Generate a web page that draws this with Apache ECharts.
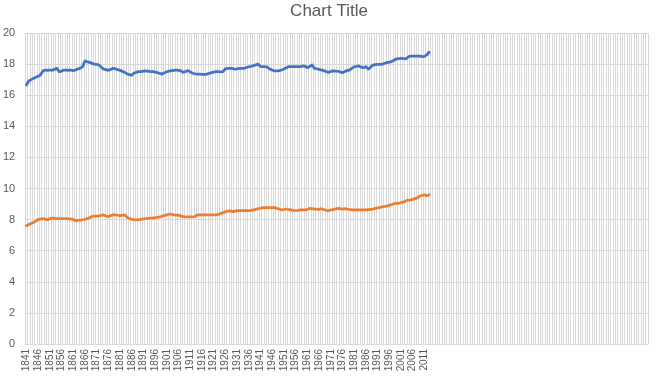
<!DOCTYPE html>
<html>
<head>
<meta charset="utf-8">
<script src="https://cdn.jsdelivr.net/npm/echarts@6/dist/echarts.min.js"></script>
<style>
html,body{margin:0;padding:0;background:#fff;}
#chart{width:658px;height:387px;}
</style>
</head>
<body>
<div id="chart"></div>
<script>
// First and last labelled years; the category axis carries extra blank slots after the data
const firstYear = 1841;
const lastYear = 2013;
const blankSlots = 93;

const yTicks = [0, 2, 4, 6, 8, 10, 12, 14, 16, 18, 20];

// Series 1 (blue), one value per year 1841..2013
const series1 = [
  16.66,16.91,17.00,17.08,17.15,17.22,17.30,17.55,17.62,17.60,
  17.62,17.60,17.66,17.73,17.51,17.55,17.62,17.62,17.60,17.62,
  17.58,17.62,17.68,17.74,17.83,18.20,18.15,18.11,18.05,18.00,
  17.98,17.94,17.80,17.68,17.64,17.60,17.65,17.73,17.70,17.64,
  17.60,17.52,17.47,17.38,17.32,17.28,17.43,17.48,17.51,17.52,
  17.55,17.56,17.55,17.52,17.51,17.48,17.45,17.40,17.36,17.45,
  17.51,17.55,17.58,17.60,17.62,17.60,17.56,17.47,17.52,17.58,
  17.50,17.41,17.38,17.36,17.35,17.34,17.34,17.36,17.40,17.45,
  17.48,17.51,17.51,17.50,17.51,17.70,17.73,17.73,17.72,17.68,
  17.70,17.73,17.72,17.73,17.78,17.83,17.86,17.90,17.95,18.00,
  17.85,17.83,17.83,17.80,17.68,17.62,17.56,17.57,17.58,17.62,
  17.68,17.76,17.83,17.83,17.83,17.83,17.83,17.83,17.88,17.86,
  17.77,17.85,17.94,17.73,17.70,17.66,17.62,17.58,17.52,17.47,
  17.52,17.56,17.55,17.54,17.50,17.45,17.52,17.58,17.62,17.72,
  17.83,17.86,17.88,17.80,17.77,17.83,17.68,17.80,17.94,17.97,
  17.99,17.99,17.99,18.05,18.10,18.12,18.16,18.25,18.33,18.35,
  18.37,18.36,18.33,18.45,18.52,18.52,18.52,18.52,18.52,18.48,
  18.50,18.59,18.76
];

// Series 2 (orange), one value per year 1841..2013
const series2 = [
  7.61,7.68,7.75,7.82,7.90,8.00,8.04,8.06,8.03,7.99,
  8.05,8.10,8.08,8.06,8.06,8.06,8.06,8.06,8.05,8.04,
  8.00,7.93,7.95,7.97,7.99,8.02,8.06,8.12,8.20,8.23,
  8.23,8.23,8.28,8.30,8.22,8.19,8.26,8.30,8.30,8.28,
  8.25,8.28,8.30,8.15,8.06,8.02,8.00,7.99,8.00,8.02,
  8.04,8.06,8.08,8.10,8.10,8.12,8.15,8.18,8.22,8.27,
  8.30,8.36,8.33,8.30,8.29,8.28,8.22,8.19,8.18,8.17,
  8.17,8.17,8.20,8.30,8.30,8.30,8.30,8.30,8.30,8.30,
  8.30,8.30,8.33,8.40,8.45,8.50,8.55,8.56,8.51,8.55,
  8.57,8.57,8.57,8.57,8.57,8.57,8.60,8.62,8.66,8.70,
  8.73,8.77,8.77,8.77,8.77,8.77,8.77,8.72,8.68,8.62,
  8.65,8.68,8.65,8.62,8.60,8.57,8.60,8.62,8.62,8.62,
  8.66,8.72,8.70,8.68,8.67,8.66,8.70,8.65,8.60,8.58,
  8.62,8.64,8.68,8.72,8.70,8.68,8.70,8.68,8.65,8.62,
  8.62,8.62,8.62,8.62,8.62,8.62,8.64,8.66,8.68,8.72,
  8.75,8.79,8.82,8.85,8.87,8.92,8.96,9.02,9.05,9.05,
  9.10,9.13,9.20,9.26,9.26,9.30,9.35,9.40,9.52,9.55,
  9.60,9.54,9.60
];

const categories = [];
for (let y = firstYear; y <= lastYear; y++) categories.push(String(y));
for (let i = 0; i < blankSlots; i++) categories.push('');

const FONT = '"Liberation Sans", Arial, sans-serif';
const chart = echarts.init(document.getElementById('chart'), null, {renderer: 'canvas'});
chart.setOption({
  animation: false,
  backgroundColor: '#ffffff',
  title: {
    text: 'Chart Title',
    left: 'center',
    top: -2,
    textStyle: {fontFamily: FONT, fontSize: 17, fontWeight: 'normal', color: '#595959'}
  },
  grid: {left: 23, right: 10, top: 33, bottom: 43, containLabel: false},
  xAxis: {
    type: 'category',
    data: categories,
    boundaryGap: true,
    axisLine: {show: true, lineStyle: {color: '#d9d9d9', width: 1}},
    axisTick: {show: false},
    axisLabel: {
      interval: 4, rotate: 90, margin: 5,
      fontFamily: FONT, fontSize: 10, color: '#595959'
    },
    splitLine: {show: true, interval: 0, lineStyle: {color: '#d9d9d9', width: 1}}
  },
  yAxis: {
    type: 'value',
    min: yTicks[0],
    max: yTicks[yTicks.length - 1],
    interval: yTicks[1] - yTicks[0],
    axisLine: {show: false},
    axisTick: {show: false},
    axisLabel: {margin: 10, fontFamily: FONT, fontSize: 11, color: '#595959'},
    splitLine: {show: true, lineStyle: {color: '#d9d9d9', width: 1}}
  },
  series: [
    {
      type: 'line', data: series1, showSymbol: false, symbol: 'none',
      lineStyle: {color: '#4472C4', width: 2.75, cap: 'round', join: 'round'},
      itemStyle: {color: '#4472C4'}
    },
    {
      type: 'line', data: series2, showSymbol: false, symbol: 'none',
      lineStyle: {color: '#ED7D31', width: 2.75, cap: 'round', join: 'round'},
      itemStyle: {color: '#ED7D31'}
    }
  ]
});
</script>
</body>
</html>
